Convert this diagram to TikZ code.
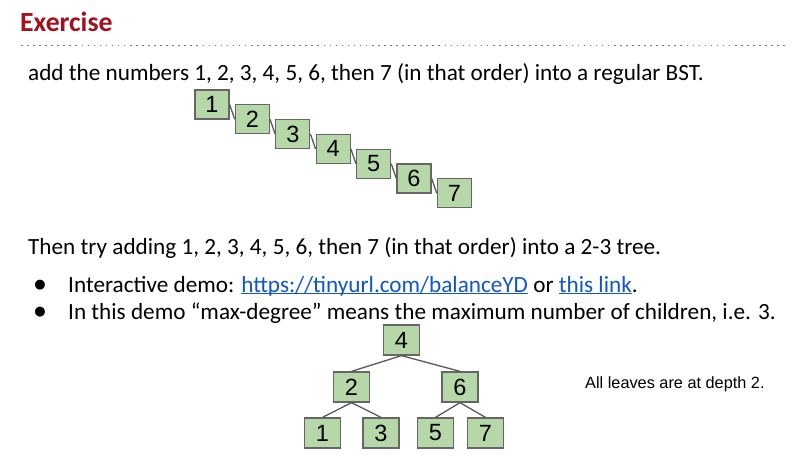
\documentclass[tikz,border=0pt]{standalone}
\usepackage{fontspec}
\setmainfont{Carlito}
\newfontfamily\arialfont{Liberation Sans}
\newfontfamily\symfont{DejaVu Sans}
\definecolor{titlered}{HTML}{A50F1C}
\definecolor{boxfill}{HTML}{B6D7A8}
\definecolor{boxline}{HTML}{666666}
\definecolor{edgecol}{HTML}{595959}
\definecolor{linkblue}{HTML}{1155CC}
\definecolor{dotcol}{HTML}{5B7F95}
\newcommand\myul[1]{\setbox0\hbox{#1}\rlap{\rule[-2.4pt]{\wd0}{1pt}}\box0}
\tikzset{
  numbox/.style={draw=boxline, line width=1.3pt, fill=boxfill, minimum width=34pt, minimum height=29pt, inner sep=0pt, font=\arialfont\fontsize{23.5}{23.5}\selectfont},
  treebox/.style={numbox, minimum width=36pt, minimum height=30pt},
  edge/.style={draw=edgecol, line width=1.3pt},
  body/.style={anchor=base west, inner sep=0pt, font=\fontsize{23.2}{26}\selectfont},
}
\begin{document}
\begin{tikzpicture}[x=1pt,y=-1pt]
\useasboundingbox (0,0) rectangle (795,456);
% title
\node[anchor=base west, inner sep=0pt, text=titlered, font=\bfseries\fontsize{27.7}{32}\selectfont] (title) at (20,31) {Exercise};
\coordinate (dl) at (21,45.5);
\coordinate (dr) at (787,45.5);
\draw[dotcol, line width=1.6pt, dash pattern=on 1.6pt off 4.45pt] (dl) -- (dr);
% line 1
\node[body] (t1) at (28,80) {add the numbers 1, 2, 3, 4, 5, 6, then 7 (in that order) into a regular BST.};
% BST chain
\foreach \i in {1,...,7} {
  \node[numbox] (c\i) at ({212+40.4*(\i-1)},{104.5+14.8*(\i-1)}) {\i};
}
\foreach \i/\j in {1/2,2/3,3/4,4/5,5/6,6/7} {
  \draw[edge] (c\i.east) -- (c\j.west);
}
% line 2
\node[body] (t2) at (28,254) {Then try adding 1, 2, 3, 4, 5, 6, then 7 (in that order) into a 2-3 tree.};
\node[inner sep=0pt, font=\symfont\fontsize{13}{13}\selectfont] (b1) at (40,285) {●};
\node[inner sep=0pt, font=\symfont\fontsize{13}{13}\selectfont] (b2) at (40,312) {●};
\node[body] (t3) at (68,292) {Interactive demo: \textcolor{linkblue}{\myul{https://tinyurl.com/balanceYD}} or \textcolor{linkblue}{\myul{this link}}.};
\node[body] (t4) at (68,319) {In this demo “max-degree” means the maximum number of children, i.e. 3.};
% 2-3 tree
\node[treebox] (r4) at (401.5,340) {4};
\node[treebox] (r2) at (351.5,387) {2};
\node[treebox] (r6) at (460,387) {6};
\node[treebox] (l1) at (322.5,433) {1};
\node[treebox] (l3) at (381,433) {3};
\node[treebox] (l5) at (435.5,433) {5};
\node[treebox] (l7) at (485.5,433) {7};
\draw[edge] (r4.south) -- (r2.north);
\draw[edge] (r4.south) -- (r6.north);
\draw[edge] (r2.south) -- (l1.north);
\draw[edge] (r2.south) -- (l3.north);
\draw[edge] (r6.south) -- (l5.north);
\draw[edge] (r6.south) -- (l7.north);
\node[anchor=base west, inner sep=0pt, font=\arialfont\fontsize{16.3}{18}\selectfont] (note) at (585,388) {All leaves are at depth 2.};
\end{tikzpicture}
\end{document}
